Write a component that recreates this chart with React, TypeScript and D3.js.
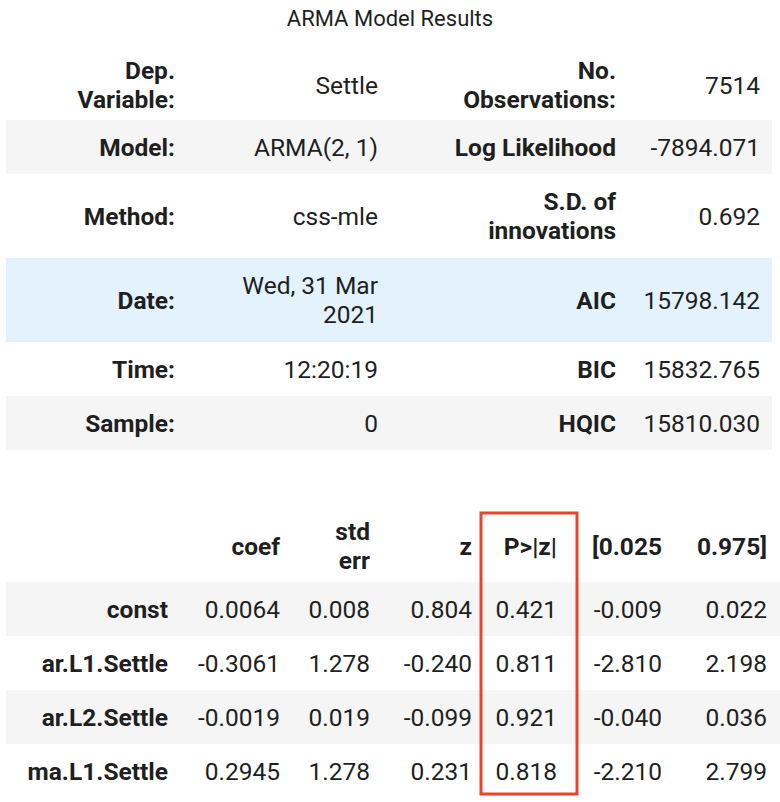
import * as d3 from 'd3'

const W = 780
const H = 802

// summary table (label, value, label, value)
const infoLabels1 = ['Dep.\nVariable:', 'Model:', 'Method:', 'Date:', 'Time:', 'Sample:']
const infoValues1 = ['Settle', 'ARMA(2, 1)', 'css-mle', 'Wed, 31 Mar\n2021', '12:20:19', '0']
const infoLabels2 = ['No.\nObservations:', 'Log Likelihood', 'S.D. of\ninnovations', 'AIC', 'BIC', 'HQIC']
const infoValues2 = ['7514', '-7894.071', '0.692', '15798.142', '15832.765', '15810.030']
const infoRowEdges = [50, 120, 174, 258, 342, 396, 450]
const infoBg = ['#fff', '#f5f5f5', '#fff', '#e3f2fd', '#fff', '#f5f5f5']

const coefHeaders = ['', 'coef', 'std\nerr', 'z', 'P>|z|', '[0.025', '0.975]']
const coefNames = ['const', 'ar.L1.Settle', 'ar.L2.Settle', 'ma.L1.Settle']
const coefValues = ['0.0064', '-0.3061', '-0.0019', '0.2945']
const stdErr = ['0.008', '1.278', '0.019', '1.278']
const zValues = ['0.804', '-0.240', '-0.099', '0.231']
const pValues = ['0.421', '0.811', '0.921', '0.818']
const ciLow = ['-0.009', '-2.810', '-0.040', '-2.210']
const ciHigh = ['0.022', '2.198', '0.036', '2.799']
const coefRowEdges = [510, 582, 636, 690, 744, 798]

const font = 'Roboto, "Noto Sans", sans-serif'
const ink = '#1f1f1f'

const Cell = ({ x, y, text, bold }: { x: number; y: number; text: string; bold?: boolean }) => {
  const lines = text.split('\n')
  const lh = 29
  const y0 = y - ((lines.length - 1) * lh) / 2
  return (
    <text x={x} textAnchor="end" fontWeight={bold ? 700 : 400} fontSize={24.5} fill={ink} fontFamily={font}>
      {lines.map((l, i) => (
        <tspan key={i} x={x} y={y0 + i * lh} dy="0.35em">
          {l}
        </tspan>
      ))}
    </text>
  )
}

export default function App() {
  const infoCols = [175, 378, 616, 760]
  const coefCols = [168, 280, 370, 472, 557, 662, 767]
  const x = d3.scaleLinear().domain([0, W]).range([0, W])
  const infoMid = (i: number) => (infoRowEdges[i] + infoRowEdges[i + 1]) / 2
  const coefMid = (i: number) => (coefRowEdges[i] + coefRowEdges[i + 1]) / 2
  const coefCols2 = [coefNames, coefValues, stdErr, zValues, pValues, ciLow, ciHigh]

  return (
    <svg width={W} height={H} style={{ position: 'absolute', left: 0, top: 0, background: '#fff' }}>
      <text x={W / 2} y={18} dy="0.35em" textAnchor="middle" fontSize={22} fill={ink} fontFamily={font}>
        ARMA Model Results
      </text>
      {infoBg.map((c, i) => (
        <rect key={i} x={x(6)} y={infoRowEdges[i]} width={x(772) - x(6)} height={infoRowEdges[i + 1] - infoRowEdges[i]} fill={c} />
      ))}
      {infoLabels1.map((_, i) => (
        <g key={i}>
          <Cell x={infoCols[0]} y={infoMid(i)} text={infoLabels1[i]} bold />
          <Cell x={infoCols[1]} y={infoMid(i)} text={infoValues1[i]} />
          <Cell x={infoCols[2]} y={infoMid(i)} text={infoLabels2[i]} bold />
          <Cell x={infoCols[3]} y={infoMid(i)} text={infoValues2[i]} />
        </g>
      ))}
      {coefNames.map((_, i) => (
        <rect key={i} x={6} y={coefRowEdges[i + 1]} width={774} height={coefRowEdges[i + 2] - coefRowEdges[i + 1]} fill={i % 2 === 0 ? '#f5f5f5' : '#fff'} />
      ))}
      {coefHeaders.map((h, j) => (
        <Cell key={j} x={coefCols[j]} y={coefMid(0)} text={h} bold />
      ))}
      {coefNames.map((_, i) =>
        coefCols2.map((col, j) => <Cell key={`${i}-${j}`} x={coefCols[j]} y={coefMid(i + 1)} text={col[i]} bold={j === 0} />)
      )}
      <rect x={481} y={513} width={96} height={281} fill="none" stroke="#e8432e" strokeWidth={3} />
    </svg>
  )
}
